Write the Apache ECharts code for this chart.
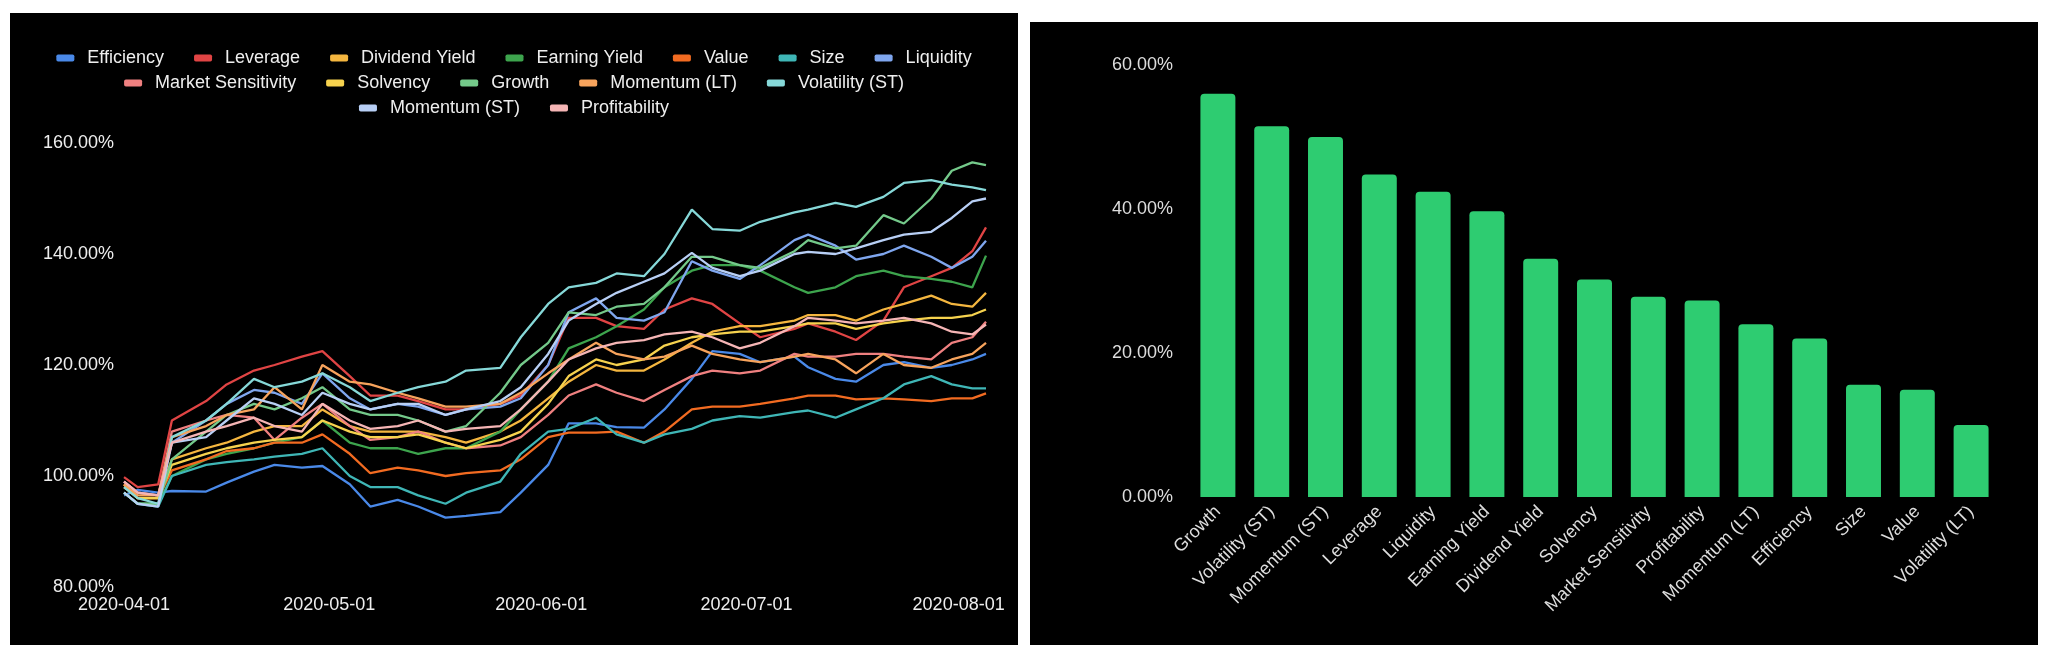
<!DOCTYPE html>
<html>
<head>
<meta charset="utf-8">
<script src="https://cdn.jsdelivr.net/npm/echarts@6/dist/echarts.min.js"></script>
<style>
html,body{margin:0;padding:0;background:#fff;width:2058px;height:658px;overflow:hidden;}
#l{position:absolute;left:10px;top:13px;width:1008px;height:632px;background:#000;}
#r{position:absolute;left:1030px;top:22px;width:1008px;height:623px;background:#000;}
</style>
</head>
<body>
<div id="l"></div>
<div id="r"></div>
<script>
// ---------- line chart data ----------
const dates = ['2020-04-01','2020-04-03','2020-04-06','2020-04-08','2020-04-13','2020-04-16','2020-04-20','2020-04-23','2020-04-27','2020-04-30',
'2020-05-04','2020-05-07','2020-05-11','2020-05-14','2020-05-18','2020-05-21','2020-05-26','2020-05-29','2020-06-02','2020-06-05',
'2020-06-09','2020-06-12','2020-06-16','2020-06-19','2020-06-23','2020-06-26','2020-06-30','2020-07-03','2020-07-08','2020-07-10',
'2020-07-14','2020-07-17','2020-07-21','2020-07-24','2020-07-28','2020-07-31','2020-08-03','2020-08-05'];

const factorNames = ['Efficiency','Leverage','Dividend Yield','Earning Yield','Value','Size','Liquidity',
'Market Sensitivity','Solvency','Growth','Momentum (LT)','Volatility (ST)','Momentum (ST)','Profitability'];

const efficiency = [96.5,97.5,97,97.3,97.2,98.8,100.8,102,101.5,101.8,98.5,94.5,95.7,94.5,92.5,92.8,93.5,97,102,109.5,109.5,108.8,108.7,112,117.5,122.5,122,120.5,121.5,119.6,117.5,117,120,120.5,119.5,120,121,122];
const leverage = [99.8,98,98.5,110,113.5,116.5,119,120,121.5,122.5,118,114.5,114.5,113.5,112,112,113,114.5,120,128.5,128.5,127,126.5,130,132,131,127.5,125,126.5,127.5,126,124.5,128,134,136,137.5,140.5,144.8];
const dividendYield = [98.5,96,96,103,105,106,108,109,109,112,109,108,108,108,107,106,108,110,114,117,120,119,119,121,124,126,127,127,128,129,129,128,130,131,132.5,131,130.5,133];
const earningYield = [97,95,95,100,103,104,105,106,107,110,106,105,105,104,105,105,108,112,117,123,125,127,130,134,137,138,138,137,134,133,134,136,137,136,135.5,135,134,139.7];
const value = [98.5,96,96,101,103,104.5,105,106,106,107.5,104,100.5,101.5,101,100,100.5,101,103,107,107.8,107.8,108,106,108,112,112.5,112.5,113,114,114.5,114.5,113.8,114,113.8,113.5,114,114,114.9];
const size = [97,95,94.5,100,102,102.5,103,103.5,104,105,100,98,98,96.5,95,97,99,104,108,108.5,110.5,107.5,106,107.5,108.5,110,110.8,110.5,111.5,111.8,110.5,112,114,116.5,118,116.5,115.8,115.8];
const liquidity = [99,97,96.5,106,110,113,115.5,115,113,118.5,114,112,113,112.5,111,112,112.5,114,120,129.5,132,128.5,128,129.5,138.7,137,135.5,138,142.5,143.5,141.5,139,140,141.5,139.5,137.5,139.5,142.4];
const marketSensitivity = [99,97,96.5,108,110,111,110.5,106.5,110.5,113,109,106.5,107,108,106,105,105.5,107,111,114.5,116.5,115,113.5,115.5,118,119,118.5,119,122,121.5,121.5,122,122,121.5,121,124,125,127.8];
const solvency = [98,96,96,102,104,105,106,106.5,107,110,108,107,107,107.5,106,105,106.5,108,113,118,121,120,121,123.5,125,125.5,126,126,127,127.5,127.5,126.5,127.5,128,128.5,128.5,129,130];
const growth = [97,95,95,103,108,111,113,112,114,116,112,111,111,110,108,109,115,120,124,129.5,129,130.5,131,134,139.5,139.5,138,137.5,140.5,142.5,141,141.5,147,145.5,150,155,156.5,156];
const momentumLT = [98.5,96.5,96.5,107,109,111,112,116,112,120,117,116.5,115,114,112.5,112.5,113,115,118.5,121,124,122,121,121.5,123.5,122,121,120.5,121.5,122,121,118.5,122,120,119.5,121,122,124];
const volatilityST = [98,96,95,107,110,113,117.5,116,117,118.5,116,113.5,115,116,117,119,119.5,125,131,134,134.8,136.5,136,140,148,144.5,144.2,145.8,147.5,148,149.2,148.5,150.3,152.8,153.3,152.5,152,151.5];
const momentumST = [97,95,94.5,106,107,110,114,113,111,115,113,112,113,113,111,112,113.5,116,122,128,131,133,135,136.5,140.2,137.5,136,137,140,140.4,140,141,142.5,143.5,144,146.5,149.5,150];
const profitability = [99,97,96.5,106,108,109,110.5,109,108,113,110,108.5,109,110,108,108.5,109,112,117,121,123,124,124.5,125.5,126,125,123,124,127,128.5,128,127.5,128,128.5,127.5,126,125.5,127.3];

const lineValues = [efficiency,leverage,dividendYield,earningYield,value,size,liquidity,
  marketSensitivity,solvency,growth,momentumLT,volatilityST,momentumST,profitability];
const lineColors = ['#4a89e8','#e04444','#f4b63f','#3da44d','#f26b21','#3fb6b6','#7fa6ee',
  '#ef8080','#f6d24e','#74c98a','#f7a35c','#86d8d8','#b8cff5','#f5b5b5'];

const xTickLabels = ['2020-04-01','2020-05-01','2020-06-01','2020-07-01','2020-08-01'];
const yTicks = [80,100,120,140,160];

// ---------- bar chart data ----------
const barCategories = ['Growth','Volatility (ST)','Momentum (ST)','Leverage','Liquidity','Earning Yield','Dividend Yield',
  'Solvency','Market Sensitivity','Profitability','Momentum (LT)','Efficiency','Size','Value','Volatility (LT)'];
const barValues = [56.0,51.5,50.0,44.8,42.4,39.7,33.1,30.2,27.8,27.3,24.0,22.0,15.6,14.9,10.0];
const barTicks = [0,20,40,60];

// ---------- build ----------
const FONT = 'Liberation Sans, Arial, Helvetica, sans-serif';
function ts(s){const p=s.split('-');return Date.UTC(+p[0],+p[1]-1,+p[2]);}
function fmtDate(v){const d=new Date(Math.round(v));const m=d.getUTCMonth()+1,dd=d.getUTCDate();return d.getUTCFullYear()+'-'+(m<10?'0':'')+m+'-'+(dd<10?'0':'')+dd;}

const barChart = echarts.init(document.getElementById('r'));
barChart.setOption({
  backgroundColor:'#000',
  animation:false,
  textStyle:{fontFamily:FONT},
  grid:{left:161, right:40, top:43, bottom:148},
  xAxis:{
    type:'category', data:barCategories,
    axisLine:{show:false}, axisTick:{show:false},
    axisLabel:{rotate:45, interval:0, color:'#dddddd', fontSize:18, margin:12}
  },
  yAxis:{
    type:'value', min:barTicks[0], max:barTicks[barTicks.length-1], interval:20,
    axisLine:{show:false}, axisTick:{show:false}, splitLine:{show:false},
    axisLabel:{formatter:(v)=>v.toFixed(2)+'%', color:'#dddddd', fontSize:18, margin:18}
  },
  series:[{
    type:'bar', data:barValues, barWidth:'65%',
    itemStyle:{color:'#2ecc71', borderRadius:[4,4,0,0]}
  }]
});

const legendRows = [factorNames.slice(0,7), factorNames.slice(7,12), factorNames.slice(12)];
const legendTops = [31,56,81];

const lineChart = echarts.init(document.getElementById('l'));
lineChart.setOption({
  backgroundColor:'#000',
  animation:false,
  textStyle:{fontFamily:FONT},
  legend: legendRows.map((row,i)=>({
    data:row, top:legendTops[i], left:'center', icon:'roundRect',
    itemWidth:18, itemHeight:7, itemGap:30,
    textStyle:{color:'#eeeeee', fontSize:18, fontFamily:FONT, padding:[0,0,0,8]}
  })),
  grid:{left:114, right:32, top:130, bottom:58},
  xAxis:{
    type:'value', min:ts(dates[0]), max:ts(dates[dates.length-1]),
    axisLine:{show:false}, axisTick:{show:false}, splitLine:{show:false},
    axisLabel:{customValues:xTickLabels.map(ts), formatter:(v)=>fmtDate(v), color:'#eeeeee', fontSize:18, margin:9}
  },
  yAxis:{
    type:'value', min:yTicks[0], max:yTicks[yTicks.length-1], interval:20,
    axisLine:{show:false}, axisTick:{show:false}, splitLine:{show:false},
    axisLabel:{formatter:(v)=>v.toFixed(2)+'%', color:'#eeeeee', fontSize:18, margin:10}
  },
  series: factorNames.map((n,i)=>({
    name:n, type:'line', showSymbol:false, symbol:'none',
    lineStyle:{width:2.3, color:lineColors[i]}, itemStyle:{color:lineColors[i]},
    data: dates.map((d,j)=>[ts(d), lineValues[i][j]])
  }))
});
</script>
</body>
</html>
